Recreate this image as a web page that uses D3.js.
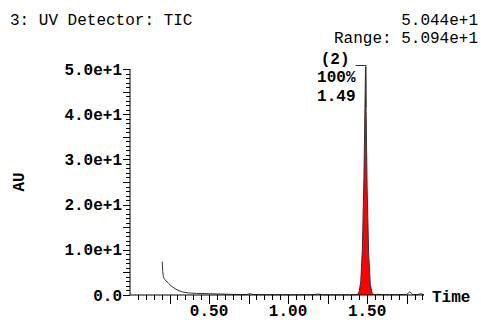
<!DOCTYPE html>
<html>
<head>
<meta charset="utf-8">
<script src="https://cdn.jsdelivr.net/npm/d3@7"></script>
<style>
  html, body { margin: 0; padding: 0; background: #fff; }
  text { font-family: "Liberation Mono", "Courier New", monospace; fill: #000; }
</style>
</head>
<body>
<svg id="chart" width="481" height="320"></svg>
<script>
// UV detector trace (retention time in minutes, response in AU)
const times = [0.204, 0.207, 0.211, 0.215, 0.225, 0.242, 0.26, 0.285, 0.31, 0.33, 0.37, 0.42, 0.50, 0.57, 0.64, 0.70,
  0.74, 0.76, 0.78, 0.85, 0.95, 1.05, 1.15, 1.19, 1.22, 1.30, 1.40,
  1.44, 1.45, 1.46, 1.47, 1.48, 1.49, 1.50, 1.51, 1.52, 1.53, 1.54,
  1.56, 1.60, 1.70, 1.75, 1.77, 1.79, 1.82, 1.84, 1.86];
const au = [7.4, 5.2, 4.1, 3.7, 3.2, 2.7, 2.0, 1.4, 0.95, 0.7, 0.45, 0.35, 0.28, 0.22, 0.15, 0.1,
  0.12, 0.3, 0.1, 0.08, 0.06, 0.05, 0.06, 0.2, 0.05, 0.04, 0.05,
  0.1, 0.8, 3, 10, 26, 50.44, 24, 9, 2.5, 0.6, 0.1,
  0.15, 0.08, 0.06, 0.1, 0.7, 0.1, 0.08, 0.3, 0.05];

// Integrated peak
const peakWindow = [1.44, 1.54];
const peakLabels = ["(2)", "100%", "1.49"];
const peakApex = [1.49, 50.44];

// Axis ticks
const yTickValues = [0, 10, 20, 30, 40, 50];
const yTickLabels = ["0.0", "1.0e+1", "2.0e+1", "3.0e+1", "4.0e+1", "5.0e+1"];
const xTickValues = [0.5, 1.0, 1.5];
const xTickLabels = ["0.50", "1.00", "1.50"];

const title = "3: UV Detector: TIC";
const maxLabel = "5.044e+1";
const rangeLabel = "Range: 5.094e+1";

const svg = d3.select("#chart");
const x = d3.scaleLinear().domain([0, 1.86]).range([130, 424]);
const y = d3.scaleLinear().domain([0, 50]).range([295, 69]);

const pts = times.map((t, i) => [t, au[i]]);

// Header
svg.append("text").attr("x", 10).attr("y", 25).attr("font-size", 16).text(title);
svg.append("text").attr("x", 478).attr("y", 25).attr("font-size", 16).attr("text-anchor", "end").text(maxLabel);
svg.append("text").attr("x", 478).attr("y", 43).attr("font-size", 16).attr("text-anchor", "end").text(rangeLabel);

// Peak fill
const peakPts = pts.filter(p => p[0] >= peakWindow[0] && p[0] <= peakWindow[1]);
svg.append("path")
  .datum(peakPts)
  .attr("fill", "#ff0000")
  .attr("d", d3.area().x(d => x(d[0])).y0(y(0)).y1(d => y(d[1])));

// Trace
svg.append("path")
  .datum(pts)
  .attr("fill", "none")
  .attr("stroke", "#333")
  .attr("stroke-width", 1)
  .attr("d", d3.line().x(d => x(d[0])).y(d => y(d[1])));

// Y axis with minor ticks
const yAxisG = svg.append("g").attr("transform", `translate(${x(0)},0)`);
yAxisG.append("line").attr("x1", 0).attr("x2", 0).attr("y1", y(0)).attr("y2", y(50))
  .attr("stroke", "#000");
const yMinor = d3.range(0, 51, 1);
yAxisG.selectAll("line.ymin").data(yMinor).join("line")
  .attr("x1", d => d % 5 === 0 ? -7 : -4).attr("x2", 0)
  .attr("y1", d => Math.round(y(d)) + 0.5).attr("y2", d => Math.round(y(d)) + 0.5)
  .attr("stroke", "#000");
yAxisG.selectAll("text.ylab").data(yTickValues).join("text")
  .attr("x", -8).attr("y", d => y(d)).attr("dy", "0.35em")
  .attr("text-anchor", "end").attr("font-size", 16).attr("font-weight", "bold")
  .text((d, i) => yTickLabels[i]);

// X axis with minor ticks
const xAxisG = svg.append("g").attr("transform", `translate(0,${y(0)})`);
xAxisG.append("line").attr("x1", x(0)).attr("x2", x(1.86)).attr("y1", 0).attr("y2", 0)
  .attr("stroke", "#000");
const xMinor = d3.range(1, 38).map(i => i * 0.05);
xAxisG.selectAll("line.xmin").data(xMinor).join("line")
  .attr("x1", d => Math.round(x(d)) + 0.5).attr("x2", d => Math.round(x(d)) + 0.5)
  .attr("y1", 0).attr("y2", (d, i) => (i + 1) % 5 === 0 ? 9 : 5)
  .attr("stroke", "#000");
xAxisG.selectAll("text.xlab").data(xTickValues).join("text")
  .attr("x", d => x(d)).attr("y", 21)
  .attr("text-anchor", "middle").attr("font-size", 16).attr("font-weight", "bold")
  .text((d, i) => xTickLabels[i]);

// Axis titles
svg.append("text").attr("x", 432).attr("y", 302).attr("font-size", 16).attr("font-weight", "bold").text("Time");
svg.append("text").attr("transform", "translate(24,182) rotate(-90)")
  .attr("text-anchor", "middle").attr("font-size", 16).attr("font-weight", "bold").text("AU");

// Peak annotation with bracket
const ax = x(peakApex[0]), ay = y(peakApex[1]);
svg.append("path")
  .attr("d", `M${ax - 10},${ay - 1.5}H${ax + 0.5}V${ay + 40}`)
  .attr("fill", "none").attr("stroke", "#333").attr("stroke-width", 1);
const labelX = ax - 10;
[58, 76, 95].forEach((ly, i) => {
  svg.append("text").attr("x", i === 0 ? labelX - 6 : labelX).attr("y", ly).attr("dy", "0.35em")
    .attr("text-anchor", "end").attr("font-size", 16).attr("font-weight", "bold")
    .text(peakLabels[i]);
});
</script>
</body>
</html>
